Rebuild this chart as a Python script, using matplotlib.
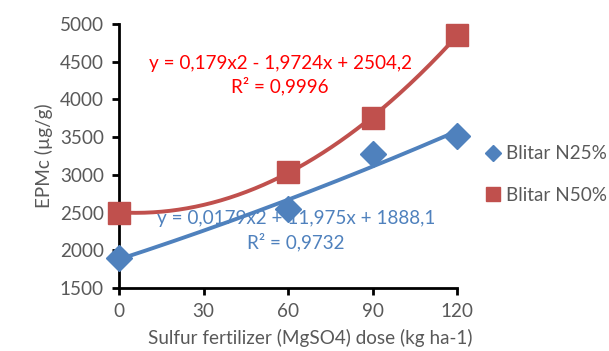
import numpy as np
import matplotlib.pyplot as plt

# dose (kg ha-1) and EPMc values
dose = [0, 60, 90, 120]
n25 = [1900, 2550, 3270, 3520]
n50 = [2500, 3040, 3750, 4850]
xticks = [0, 30, 60, 90, 120]
yticks = [1500, 2000, 2500, 3000, 3500, 4000, 4500, 5000]

blue = "#4F81BD"
red = "#C0504D"
grey = "#595959"
fs = 13.6

plt.rcParams['font.family'] = ['Lato', 'DejaVu Sans']

fig = plt.figure(figsize=(6.09, 3.51), dpi=100)
ax = fig.add_axes([119/609, 1-288/351, (457-119)/609, (288-24)/351])

# polynomial trendlines (order 2), like Excel
xs = np.linspace(0, 120, 200)
p25 = np.polyfit(dose, n25, 2)
p50 = np.polyfit(dose, n50, 2)
ax.plot(xs, np.polyval(p25, xs), color=blue, lw=2.8, zorder=2)
ax.plot(xs, np.polyval(p50, xs), color=red, lw=2.8, zorder=2)

ax.plot(dose, n25, ls='none', marker='D', ms=13, color=blue, zorder=3,
        label='Blitar N25%', clip_on=False)
ax.plot(dose, n50, ls='none', marker='s', ms=16, color=red, zorder=3,
        label='Blitar N50%', clip_on=False)

ax.set_xlim(0, 120)
ax.set_ylim(1500, 5000)
ax.set_xticks(xticks)
ax.set_yticks(yticks)
for s in ['top', 'right']:
    ax.spines[s].set_visible(False)
for s in ['left', 'bottom']:
    ax.spines[s].set_linewidth(2)
    ax.spines[s].set_color('black')
ax.tick_params(axis='both', direction='out', length=5, width=2, colors='black',
               labelcolor=grey, labelsize=fs, pad=6)

ax.set_xlabel('Sulfur fertilizer (MgSO4) dose (kg ha-1)', color=grey,
              fontsize=fs, labelpad=8)
ax.xaxis.set_label_coords(0.565, -0.155)
ax.set_ylabel('EPMc (µg/g)', color=grey, fontsize=fs, labelpad=5)

# trendline labels
ax.text(57.2, 4320, 'y = 0,179x2 - 1,9724x + 2504,2\nR² = 0,9996', color='red',
        fontsize=fs, ha='center', va='center', linespacing=1.35)
ax.text(62.8, 2260, 'y = 0,0179x2 + 11,975x + 1888,1\nR² = 0,9732', color=blue,
        fontsize=fs, ha='center', va='center', linespacing=1.35)

leg = ax.legend(loc='center left', bbox_to_anchor=(1.04, 0.43), frameon=False,
                fontsize=fs, labelcolor=grey, handlelength=0.6,
                handletextpad=0.4, labelspacing=1.3, markerscale=0.6)

fig.savefig('out.png', dpi=100)
